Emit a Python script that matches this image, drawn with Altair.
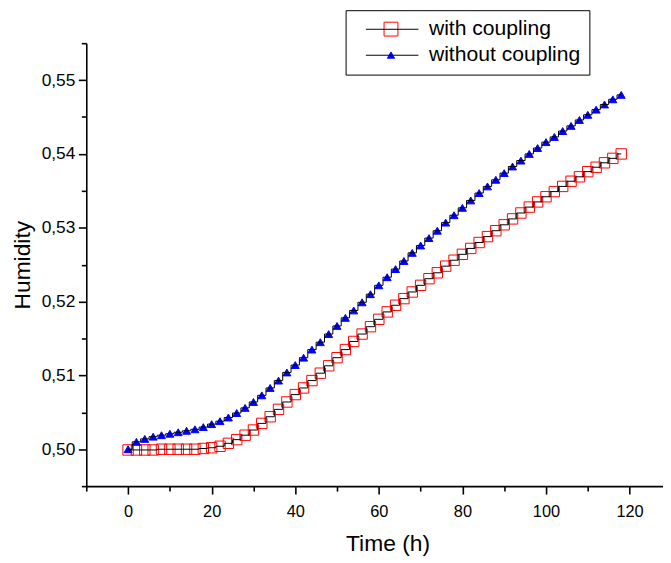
import altair as alt
import pandas as pd

# ---- data ----
time_h = [0, 2, 4, 6, 8, 10, 12, 14, 16, 18, 20, 22, 24, 26, 28, 30, 32, 34, 36, 38,
          40, 42, 44, 46, 48, 50, 52, 54, 56, 58, 60, 62, 64, 66, 68, 70, 72, 74, 76, 78,
          80, 82, 84, 86, 88, 90, 92, 94, 96, 98, 100, 102, 104, 106, 108, 110, 112, 114, 116, 118]

humidity_with_coupling = [
    0.4999, 0.4999, 0.4999, 0.4999, 0.5000, 0.5000, 0.5000, 0.5000, 0.5000, 0.5001,
    0.5002, 0.5004, 0.5008, 0.5013, 0.5019, 0.5026, 0.5035, 0.5044, 0.5054, 0.5064,
    0.5074, 0.5083, 0.5093, 0.5103, 0.5113, 0.5124, 0.5135, 0.5146, 0.5156, 0.5166,
    0.5176, 0.5186, 0.5195, 0.5204, 0.5213, 0.5222, 0.5231, 0.5239, 0.5248, 0.5256,
    0.5264, 0.5272, 0.5280, 0.5288, 0.5296, 0.5304, 0.5312, 0.5320, 0.5328, 0.5335,
    0.5342, 0.5349, 0.5356, 0.5363, 0.5369, 0.5376, 0.5382, 0.5388, 0.5394, 0.5400]

humidity_without_coupling = [
    0.5000, 0.5010, 0.5014, 0.5017, 0.5019, 0.5021, 0.5023, 0.5025, 0.5027, 0.5030,
    0.5034, 0.5038, 0.5043, 0.5049, 0.5056, 0.5064, 0.5073, 0.5083, 0.5093, 0.5104,
    0.5114, 0.5124, 0.5135, 0.5145, 0.5156, 0.5167, 0.5178, 0.5188, 0.5199, 0.5210,
    0.5222, 0.5233, 0.5244, 0.5255, 0.5266, 0.5276, 0.5286, 0.5296, 0.5307, 0.5317,
    0.5327, 0.5337, 0.5347, 0.5356, 0.5365, 0.5374, 0.5383, 0.5391, 0.5400, 0.5408,
    0.5416, 0.5423, 0.5431, 0.5438, 0.5446, 0.5453, 0.5460, 0.5467, 0.5474, 0.5480]

series_names = ["with coupling", "without coupling"]
series_stroke = ["#ff0000", "#0000ff"]
series_fill = ["transparent", "#0000ff"]
series_shape = ["square", "M0,-0.45L0.52,0.45L-0.52,0.45Z"]
x_ticks = [-10, 0, 10, 20, 30, 40, 50, 60, 70, 80, 90, 100, 110, 120]
y_ticks = [0.495, 0.500, 0.505, 0.510, 0.515, 0.520, 0.525, 0.530, 0.535, 0.540, 0.545, 0.550, 0.555]

rows = []
for name, vals in zip(series_names, [humidity_with_coupling, humidity_without_coupling]):
    for t, v in zip(time_h, vals):
        rows.append({"t": t, "h": v, "series": name, "curve": name})
df = pd.DataFrame(rows)

FONT = "Liberation Sans"

x_enc = alt.X(
    "t:Q",
    title="Time (h)",
    scale=alt.Scale(domain=[-10, 128], nice=False, zero=False),
    axis=alt.Axis(
        values=x_ticks,
        format="d",
        labelExpr="datum.value % 20 === 0 ? datum.label : ''",
        tickSize={"condition": {"test": "datum.value % 20 === 0", "value": 8}, "value": 5},
        labelFontSize=16.5,
        labelPadding=10,
        titleFontSize=23,
        titlePadding=12,
        titleX=304,
        labelOverlap=False,
        labelFlush=False,
    ),
)
y_enc = alt.Y(
    "h:Q",
    title="Humidity",
    scale=alt.Scale(domain=[0.495, 0.555], nice=False, zero=False),
    axis=alt.Axis(
        values=y_ticks,
        labelExpr="round(datum.value * 1000) % 10 === 0 ? replace(format(datum.value, '.2f'), '.', ',') : ''",
        tickSize={"condition": {"test": "round(datum.value * 1000) % 10 === 0", "value": 8}, "value": 5},
        labelFontSize=17.5,
        labelPadding=3.5,
        titleFontSize=23,
        titlePadding=7,
        labelOverlap=False,
        labelFlush=False,
    ),
)

is_with = "datum.series === 'with coupling'"

# marker symbols of the legend (labels come from the line legend below)
marker_legend = alt.Legend(
    orient="none", legendX=297, legendY=-24.7, title=None, padding=0,
    labelExpr="''", labelFontSize=21, labelFont=FONT, rowPadding=4.2,
    symbolSize=196, symbolStrokeWidth=1, symbolOpacity=1,
)

points = alt.Chart(df).mark_point(filled=True, strokeWidth=1, opacity=1).encode(
    x=x_enc,
    y=y_enc,
    stroke=alt.Stroke("series:N", scale=alt.Scale(domain=series_names, range=series_stroke),
                      legend=marker_legend),
    fill=alt.Fill("series:N", scale=alt.Scale(domain=series_names, range=series_fill),
                  legend=marker_legend),
    shape=alt.Shape("series:N", scale=alt.Scale(domain=series_names, range=series_shape),
                    legend=marker_legend),
    size=alt.condition(is_with, alt.value(110), alt.value(237)),
)

lines = alt.Chart(df).mark_line(interpolate="step", strokeWidth=1).encode(
    x=x_enc,
    y=y_enc,
    color=alt.Color(
        "curve:N",
        scale=alt.Scale(range=["#000000", "#000000"]),
        legend=alt.Legend(
            orient="none", legendX=261.7, legendY=-33.3, title=None, padding=8.6,
            strokeColor="#000000", labelFontSize=21.3, labelFont=FONT, labelColor="#000000",
            rowPadding=4.2, symbolType="M-3.786,0H3.786", symbolSize=196, symbolStrokeWidth=1,
            symbolOffset=27.7, labelOffset=26.5,
        ),
    ),
)

chart = alt.layer(points, lines).properties(
    width=582,
    height=447,
    autosize=alt.AutoSizeParams(type="none"),
    padding={"left": 79, "top": 33, "right": 0, "bottom": 70},
    background="#ffffff",
).configure_view(stroke=None).configure_axis(
    grid=False,
    domainColor="#000000",
    domainWidth=1.6,
    tickColor="#000000",
    tickWidth=1.6,
    labelColor="#000000",
    titleColor="#000000",
    labelFont=FONT,
    titleFont=FONT,
    titleFontWeight="normal",
)

chart.save("out.html", embed_options={"renderer": "svg", "actions": False})
